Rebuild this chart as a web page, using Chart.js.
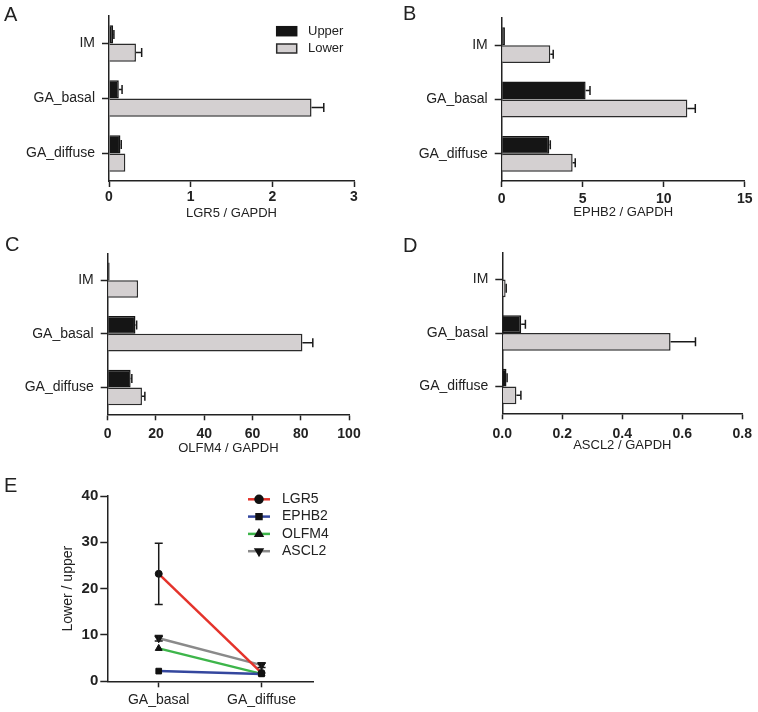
<!DOCTYPE html>
<html>
<head>
<meta charset="utf-8">
<script src="https://cdn.jsdelivr.net/npm/chart.js@4.4.1/dist/chart.umd.min.js"></script>
<style>
  body { margin: 0; background: #fff; }
  #fig { position: relative; width: 758px; height: 712px; }
  #fig canvas { position: absolute; }
  .tag { position: absolute; font: 20px 'Liberation Sans', Arial, sans-serif; line-height: 20px; color: #222; }
</style>
</head>
<body>
<div id="fig">
  <canvas id="chartA" width="379" height="230" style="left:0;top:0"></canvas>
  <canvas id="chartB" width="378" height="230" style="left:380px;top:0"></canvas>
  <canvas id="chartC" width="379" height="230" style="left:0;top:230px"></canvas>
  <canvas id="chartD" width="378" height="230" style="left:380px;top:230px"></canvas>
  <canvas id="chartE" width="420" height="252" style="left:0;top:460px"></canvas>
  <div class="tag" style="left:4px;top:4px">A</div>
  <div class="tag" style="left:403px;top:3px">B</div>
  <div class="tag" style="left:5px;top:234px">C</div>
  <div class="tag" style="left:403px;top:235px">D</div>
  <div class="tag" style="left:4px;top:475px">E</div>
</div>
<script>
// groups and series
const tissueGroups = ['IM', 'GA_basal', 'GA_diffuse'];
const seriesNames = ['Upper', 'Lower'];

// A - LGR5
const lgr5Upper = [0.05, 0.12, 0.14];
const lgr5UpperErr = [0.01, 0.04, 0.01];
const lgr5Lower = [0.33, 2.48, 0.20];
const lgr5LowerErr = [0.07, 0.15, 0];

// B - EPHB2
const ephb2Upper = [0.2, 5.18, 2.94];
const ephb2UpperErr = [0, 0.27, 0.06];
const ephb2Lower = [3.0, 11.46, 4.38];
const ephb2LowerErr = [0.18, 0.49, 0.16];

// C - OLFM4
const olfm4Upper = [0.8, 11.5, 9.5];
const olfm4UpperErr = [0, 0.5, 0.5];
const olfm4Lower = [12.6, 80.7, 14.2];
const olfm4LowerErr = [0, 4.3, 1.2];

// D - ASCL2
const ascl2Upper = [0.001, 0.063, 0.014];
const ascl2UpperErr = [0, 0.014, 0.002];
const ascl2Lower = [0.011, 0.561, 0.047];
const ascl2LowerErr = [0.002, 0.083, 0.015];

// E - lower / upper ratio
const ratioGroups = ['GA_basal', 'GA_diffuse'];
const lgr5Ratio = [23.2, 1.8];
const lgr5RatioErr = [6.6, 0];
const ephb2Ratio = [2.2, 1.6];
const olfm4Ratio = [7.1, 1.6];
const ascl2Ratio = [9.3, 3.5];
const ascl2RatioErr = [0.6, 0.5];

const FONT = "'Liberation Sans', Arial, sans-serif";
const INK = '#222';
Chart.defaults.font.family = FONT;
Chart.defaults.color = INK;

// one sided (bars) or two sided (points) error bars
const errorBars = {
    id: 'errorBars',
    afterDatasetsDraw(chart) {
        const ctx = chart.ctx;
        const horiz = chart.options.indexAxis === 'y';
        const vScale = horiz ? chart.scales.x : chart.scales.y;
        chart.data.datasets.forEach((ds, i) => {
            if (!ds.errors) return;
            const meta = chart.getDatasetMeta(i);
            ctx.save();
            ctx.strokeStyle = '#1a1a1a';
            ctx.lineWidth = 1.5;
            meta.data.forEach((el, j) => {
                const e = ds.errors[j];
                if (!e) return;
                const v = ds.data[j];
                const hi = vScale.getPixelForValue(v + e);
                ctx.beginPath();
                if (horiz) {
                    ctx.moveTo(el.x, el.y);
                    ctx.lineTo(hi, el.y);
                    ctx.moveTo(hi, el.y - 4.5);
                    ctx.lineTo(hi, el.y + 4.5);
                } else {
                    const lo = vScale.getPixelForValue(v - e);
                    ctx.moveTo(el.x, lo);
                    ctx.lineTo(el.x, hi);
                    ctx.moveTo(el.x - 4, hi);
                    ctx.lineTo(el.x + 4, hi);
                    ctx.moveTo(el.x - 4, lo);
                    ctx.lineTo(el.x + 4, lo);
                }
                ctx.stroke();
            });
            ctx.restore();
        });
    }
};

// legend drawn inside the plot
function insetLegend(cfg) {
    return {
        id: 'insetLegend',
        afterDraw(chart) {
            const ctx = chart.ctx;
            ctx.save();
            ctx.font = cfg.size + 'px ' + FONT;
            ctx.textBaseline = 'middle';
            chart.data.datasets.forEach((ds, i) => {
                const y = cfg.y + i * cfg.row;
                if (cfg.kind === 'box') {
                    ctx.fillStyle = ds.backgroundColor;
                    ctx.fillRect(cfg.x, y - 4.5, 20, 9);
                    ctx.strokeStyle = ds.borderColor;
                    ctx.lineWidth = 1.5;
                    ctx.strokeRect(cfg.x, y - 4.5, 20, 9);
                } else {
                    ctx.strokeStyle = ds.borderColor;
                    ctx.lineWidth = ds.borderWidth;
                    ctx.beginPath();
                    ctx.moveTo(cfg.x, y);
                    ctx.lineTo(cfg.x + 22, y);
                    ctx.stroke();
                    ctx.fillStyle = '#111';
                    ctx.strokeStyle = '#111';
                    Chart.helpers.drawPoint(ctx, {
                        pointStyle: ds.pointStyle,
                        rotation: ds.pointRotation || 0,
                        radius: 3.5,
                        borderWidth: 1
                    }, cfg.x + 11, y);
                }
                ctx.fillStyle = INK;
                ctx.fillText(ds.label, cfg.textX, y);
            });
            ctx.restore();
        }
    };
}

function barPanel(id, upper, upperErr, lower, lowerErr, p) {
    new Chart(document.getElementById(id), {
        type: 'bar',
        data: {
            labels: tissueGroups,
            datasets: [
                { label: seriesNames[0], data: upper, errors: upperErr, backgroundColor: '#151515', borderColor: '#151515', borderWidth: 1.5, categoryPercentage: 0.66, barPercentage: 1 },
                { label: seriesNames[1], data: lower, errors: lowerErr, backgroundColor: '#d4d0d1', borderColor: '#2b2b2b', borderWidth: 1.5, categoryPercentage: 0.66, barPercentage: 1 }
            ]
        },
        options: {
            indexAxis: 'y',
            responsive: false,
            animation: false,
            devicePixelRatio: 1,
            layout: { padding: { left: 0, top: p.top, right: p.right, bottom: p.bottom } },
            plugins: { legend: { display: false }, tooltip: { enabled: false } },
            scales: {
                x: {
                    min: 0,
                    max: p.max,
                    ticks: { stepSize: p.step, padding: p.tickPad, font: { size: 14, weight: 'bold' }, color: INK, callback: p.fmt },
                    grid: { drawOnChartArea: false, tickLength: 6, tickColor: INK, tickWidth: 1.5 },
                    border: { color: INK, width: 1.5 },
                    title: { display: true, text: p.title, font: { size: 13 }, color: INK, padding: 0 },
                    afterFit: s => { s.height = p.xh; }
                },
                y: {
                    ticks: { padding: 7, font: { size: 14 }, color: INK },
                    grid: { offset: false, drawOnChartArea: false, tickLength: 7, tickColor: INK, tickWidth: 1.5 },
                    border: { color: INK, width: 1.5 },
                    afterFit: s => { s.width = p.yw; }
                }
            }
        },
        plugins: p.legend ? [errorBars, insetLegend(p.legend)] : [errorBars]
    });
}

barPanel('chartA', lgr5Upper, lgr5UpperErr, lgr5Lower, lgr5LowerErr, {
    title: 'LGR5 / GAPDH', max: 3, step: 1, fmt: v => v,
    top: 16, right: 25, bottom: 9.2, xh: 39.8, yw: 109, tickPad: 2,
    legend: { kind: 'box', x: 276.7, y: 31.2, row: 17.3, textX: 308, size: 13 }
});
barPanel('chartB', ephb2Upper, ephb2UpperErr, ephb2Lower, ephb2LowerErr, {
    title: 'EPHB2 / GAPDH', max: 15, step: 5, fmt: v => v,
    top: 18, right: 13.3, bottom: 9.6, xh: 39.4, yw: 121.7, tickPad: 4
});
barPanel('chartC', olfm4Upper, olfm4UpperErr, olfm4Lower, olfm4LowerErr, {
    title: 'OLFM4 / GAPDH', max: 100, step: 20, fmt: v => v,
    top: 23.3, right: 30, bottom: 3.5, xh: 42.2, yw: 107.7, tickPad: 5.5
});
barPanel('chartD', ascl2Upper, ascl2UpperErr, ascl2Lower, ascl2LowerErr, {
    title: 'ASCL2 / GAPDH', max: 0.8, step: 0.2, fmt: v => Number(v).toFixed(1),
    top: 22.7, right: 13, bottom: 6.4, xh: 40.3, yw: 122.3, tickPad: 6
});

// E - ratio line plot
new Chart(document.getElementById('chartE'), {
    type: 'line',
    data: {
        labels: ratioGroups,
        datasets: [
            { label: 'LGR5', data: lgr5Ratio, errors: lgr5RatioErr, borderColor: '#e4332b', borderWidth: 2.5, pointStyle: 'circle', pointRadius: 3.5 },
            { label: 'EPHB2', data: ephb2Ratio, borderColor: '#34479e', borderWidth: 2.5, pointStyle: 'rect', pointRadius: 4 },
            { label: 'OLFM4', data: olfm4Ratio, borderColor: '#3db54a', borderWidth: 2.5, pointStyle: 'triangle', pointRadius: 4 },
            { label: 'ASCL2', data: ascl2Ratio, errors: ascl2RatioErr, borderColor: '#8a8a8a', borderWidth: 2.5, pointStyle: 'triangle', pointRotation: 180, pointRadius: 4.5 }
        ].map(d => Object.assign(d, { pointBackgroundColor: '#111', pointBorderColor: '#111', pointBorderWidth: 1, tension: 0, fill: false }))
    },
    options: {
        responsive: false,
        animation: false,
        devicePixelRatio: 1,
        layout: { padding: { left: 59.6, top: 36, right: 107, bottom: 0 } },
        plugins: { legend: { display: false }, tooltip: { enabled: false } },
        scales: {
            x: {
                offset: true,
                ticks: { padding: 4, font: { size: 14 }, color: INK },
                grid: { offset: false, drawOnChartArea: false, tickLength: 6, tickColor: INK, tickWidth: 1.5 },
                border: { color: INK, width: 1.5 },
                afterFit: s => { s.height = 30.7; }
            },
            y: {
                min: 0,
                max: 40,
                ticks: { stepSize: 10, padding: 2, font: { size: 15, weight: 'bold' }, color: INK },
                grid: { drawOnChartArea: false, tickLength: 7, tickColor: INK, tickWidth: 1.5 },
                border: { color: INK, width: 1.5 },
                title: { display: true, text: 'Lower / upper', font: { size: 14 }, color: INK, padding: 0 },
                afterFit: s => { s.width = 47.7; }
            }
        }
    },
    plugins: [errorBars, insetLegend({ kind: 'line', x: 248, y: 39.3, row: 17.3, textX: 282, size: 14 })]
});
</script>
</body>
</html>
